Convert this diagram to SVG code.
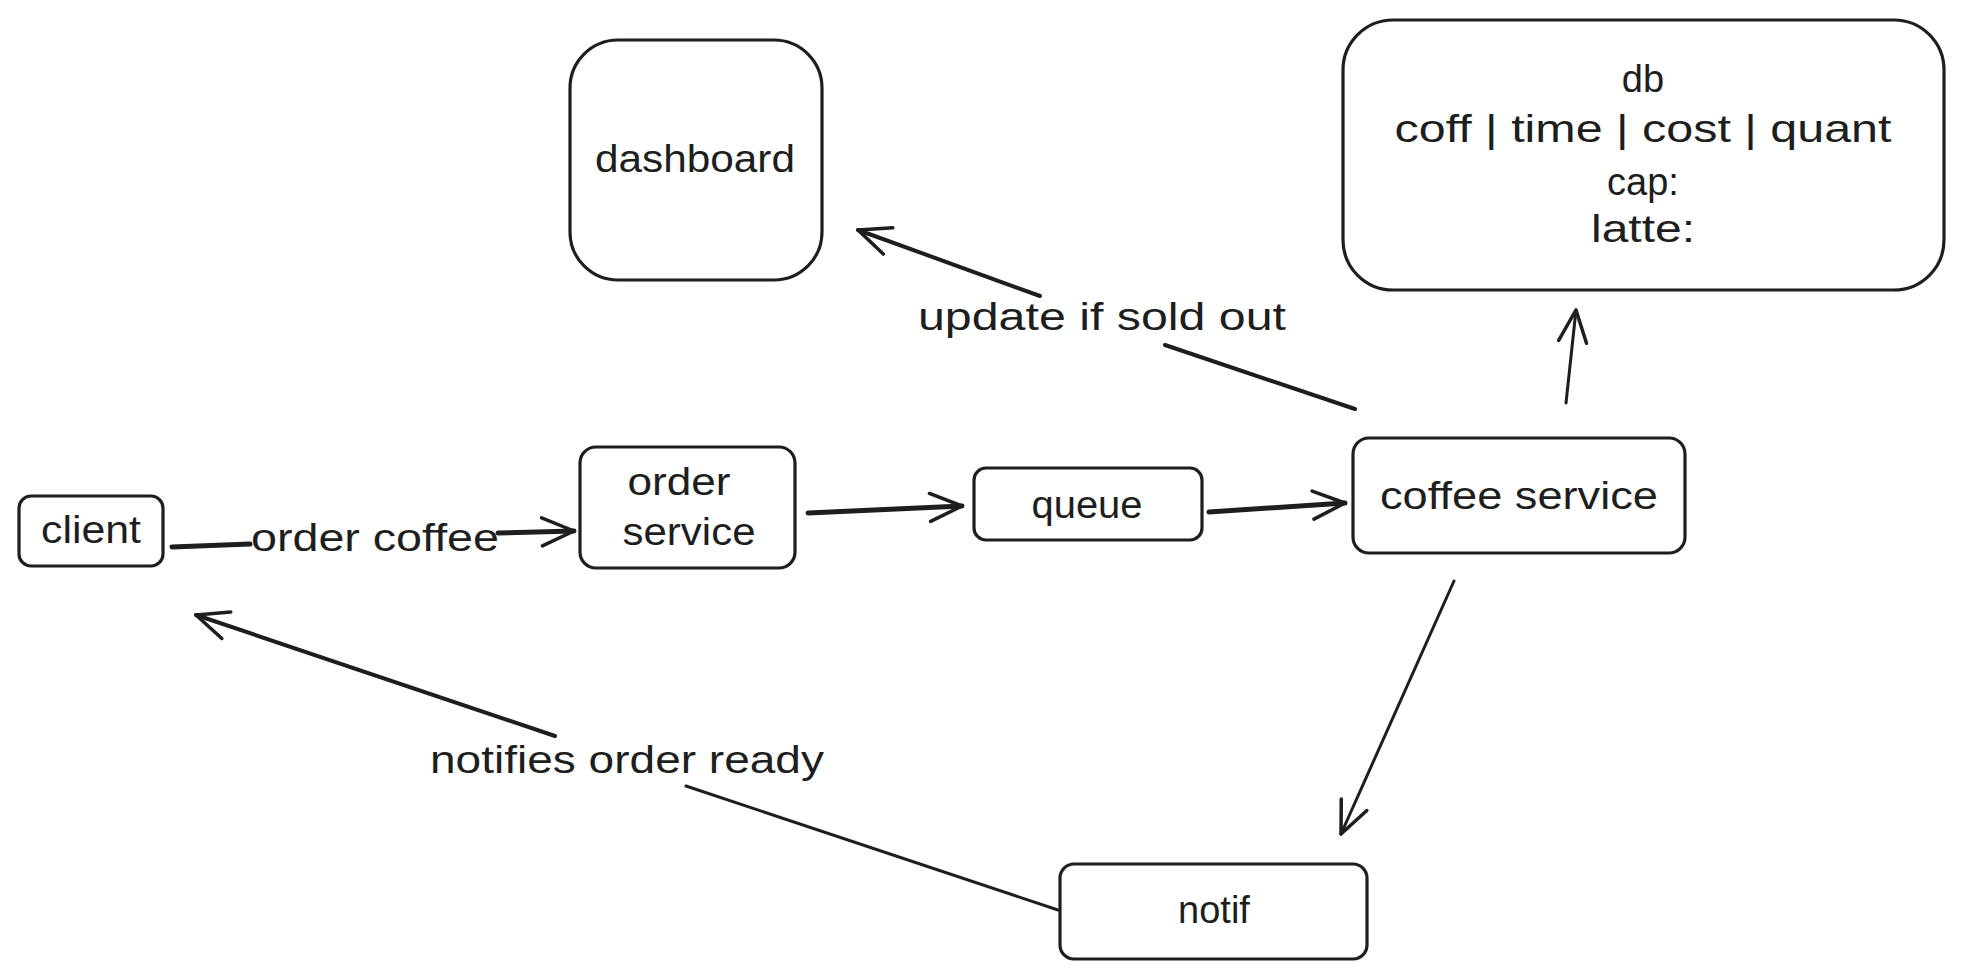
<svg xmlns="http://www.w3.org/2000/svg" width="1963" height="978" viewBox="0 0 1963 978">
<defs>
<style>
.box{fill:#fff;stroke:#1e1e1e;stroke-width:3.2}
.t{font-family:"Liberation Sans","DejaVu Sans",sans-serif;font-size:38px;fill:#1e1e1e;text-anchor:middle;dominant-baseline:central}
.c{fill:none;stroke:#1e1e1e;stroke-linecap:round}
.thick{stroke-width:5}
.mid{stroke-width:4}
.thin{stroke-width:3}
</style>
<marker id="ah" viewBox="-40 -20 50 40" refX="0" refY="0" markerWidth="50" markerHeight="40" markerUnits="userSpaceOnUse" orient="auto">
<path d="M-32,-14 L0,0 L-32,14" fill="none" stroke="#1e1e1e" stroke-width="3.5" stroke-linecap="round" stroke-linejoin="round"/>
</marker>
</defs>
<rect width="1963" height="978" fill="#fff"/>
<g id="connectors">
<path class="c thick" d="M172,547 L250,544"/>
<path class="c thick" d="M498,533 L574,531" marker-end="url(#ah)"/>
<text class="t" x="375" y="538" textLength="248" lengthAdjust="spacingAndGlyphs">order coffee</text>
<path class="c thick" d="M808,513 L962,506" marker-end="url(#ah)"/>
<path class="c thick" d="M1209,512 L1345,503" marker-end="url(#ah)"/>
<path class="c thin" d="M1566,403 L1576,310" marker-end="url(#ah)"/>
<path class="c thin" d="M1454,581 L1341,834" marker-end="url(#ah)"/>
<path class="c mid" d="M1355,409 L1165,345"/>
<path class="c mid" d="M1040,296 L858,230" marker-end="url(#ah)"/>
<text class="t" x="1102" y="317" textLength="368" lengthAdjust="spacingAndGlyphs">update if sold out</text>
<path class="c thin" d="M1058,910 L686,786"/>
<path class="c mid" d="M555,736 L196,615" marker-end="url(#ah)"/>
<text class="t" x="627" y="760" textLength="394" lengthAdjust="spacingAndGlyphs">notifies order ready</text>
</g>
<g id="dashboard">
<rect class="box" x="570" y="40" width="252" height="240" rx="48"/>
<text class="t" x="695" y="159" textLength="200" lengthAdjust="spacingAndGlyphs">dashboard</text>
</g>
<g id="db">
<rect class="box" x="1343" y="20" width="601" height="270" rx="50"/>
<text class="t" x="1643" y="79">db</text>
<text class="t" x="1643" y="129" textLength="497" lengthAdjust="spacingAndGlyphs">coff | time | cost | quant</text>
<text class="t" x="1643" y="182">cap:</text>
<text class="t" x="1643" y="229" textLength="104" lengthAdjust="spacingAndGlyphs">latte:</text>
</g>
<g id="client">
<rect class="box" x="19" y="496" width="144" height="70" rx="12"/>
<text class="t" x="91" y="530" textLength="100" lengthAdjust="spacingAndGlyphs">client</text>
</g>
<g id="order-service">
<rect class="box" x="580" y="447" width="215" height="121" rx="16"/>
<text class="t" x="679" y="482" textLength="103" lengthAdjust="spacingAndGlyphs">order</text>
<text class="t" x="689" y="532" textLength="133" lengthAdjust="spacingAndGlyphs">service</text>
</g>
<g id="queue">
<rect class="box" x="974" y="468" width="228" height="72" rx="12"/>
<text class="t" x="1087" y="505" textLength="111" lengthAdjust="spacingAndGlyphs">queue</text>
</g>
<g id="coffee-service">
<rect class="box" x="1353" y="438" width="332" height="115" rx="16"/>
<text class="t" x="1519" y="496" textLength="278" lengthAdjust="spacingAndGlyphs">coffee service</text>
</g>
<g id="notif">
<rect class="box" x="1060" y="864" width="307" height="95" rx="14"/>
<text class="t" x="1214" y="910">notif</text>
</g>
</svg>
